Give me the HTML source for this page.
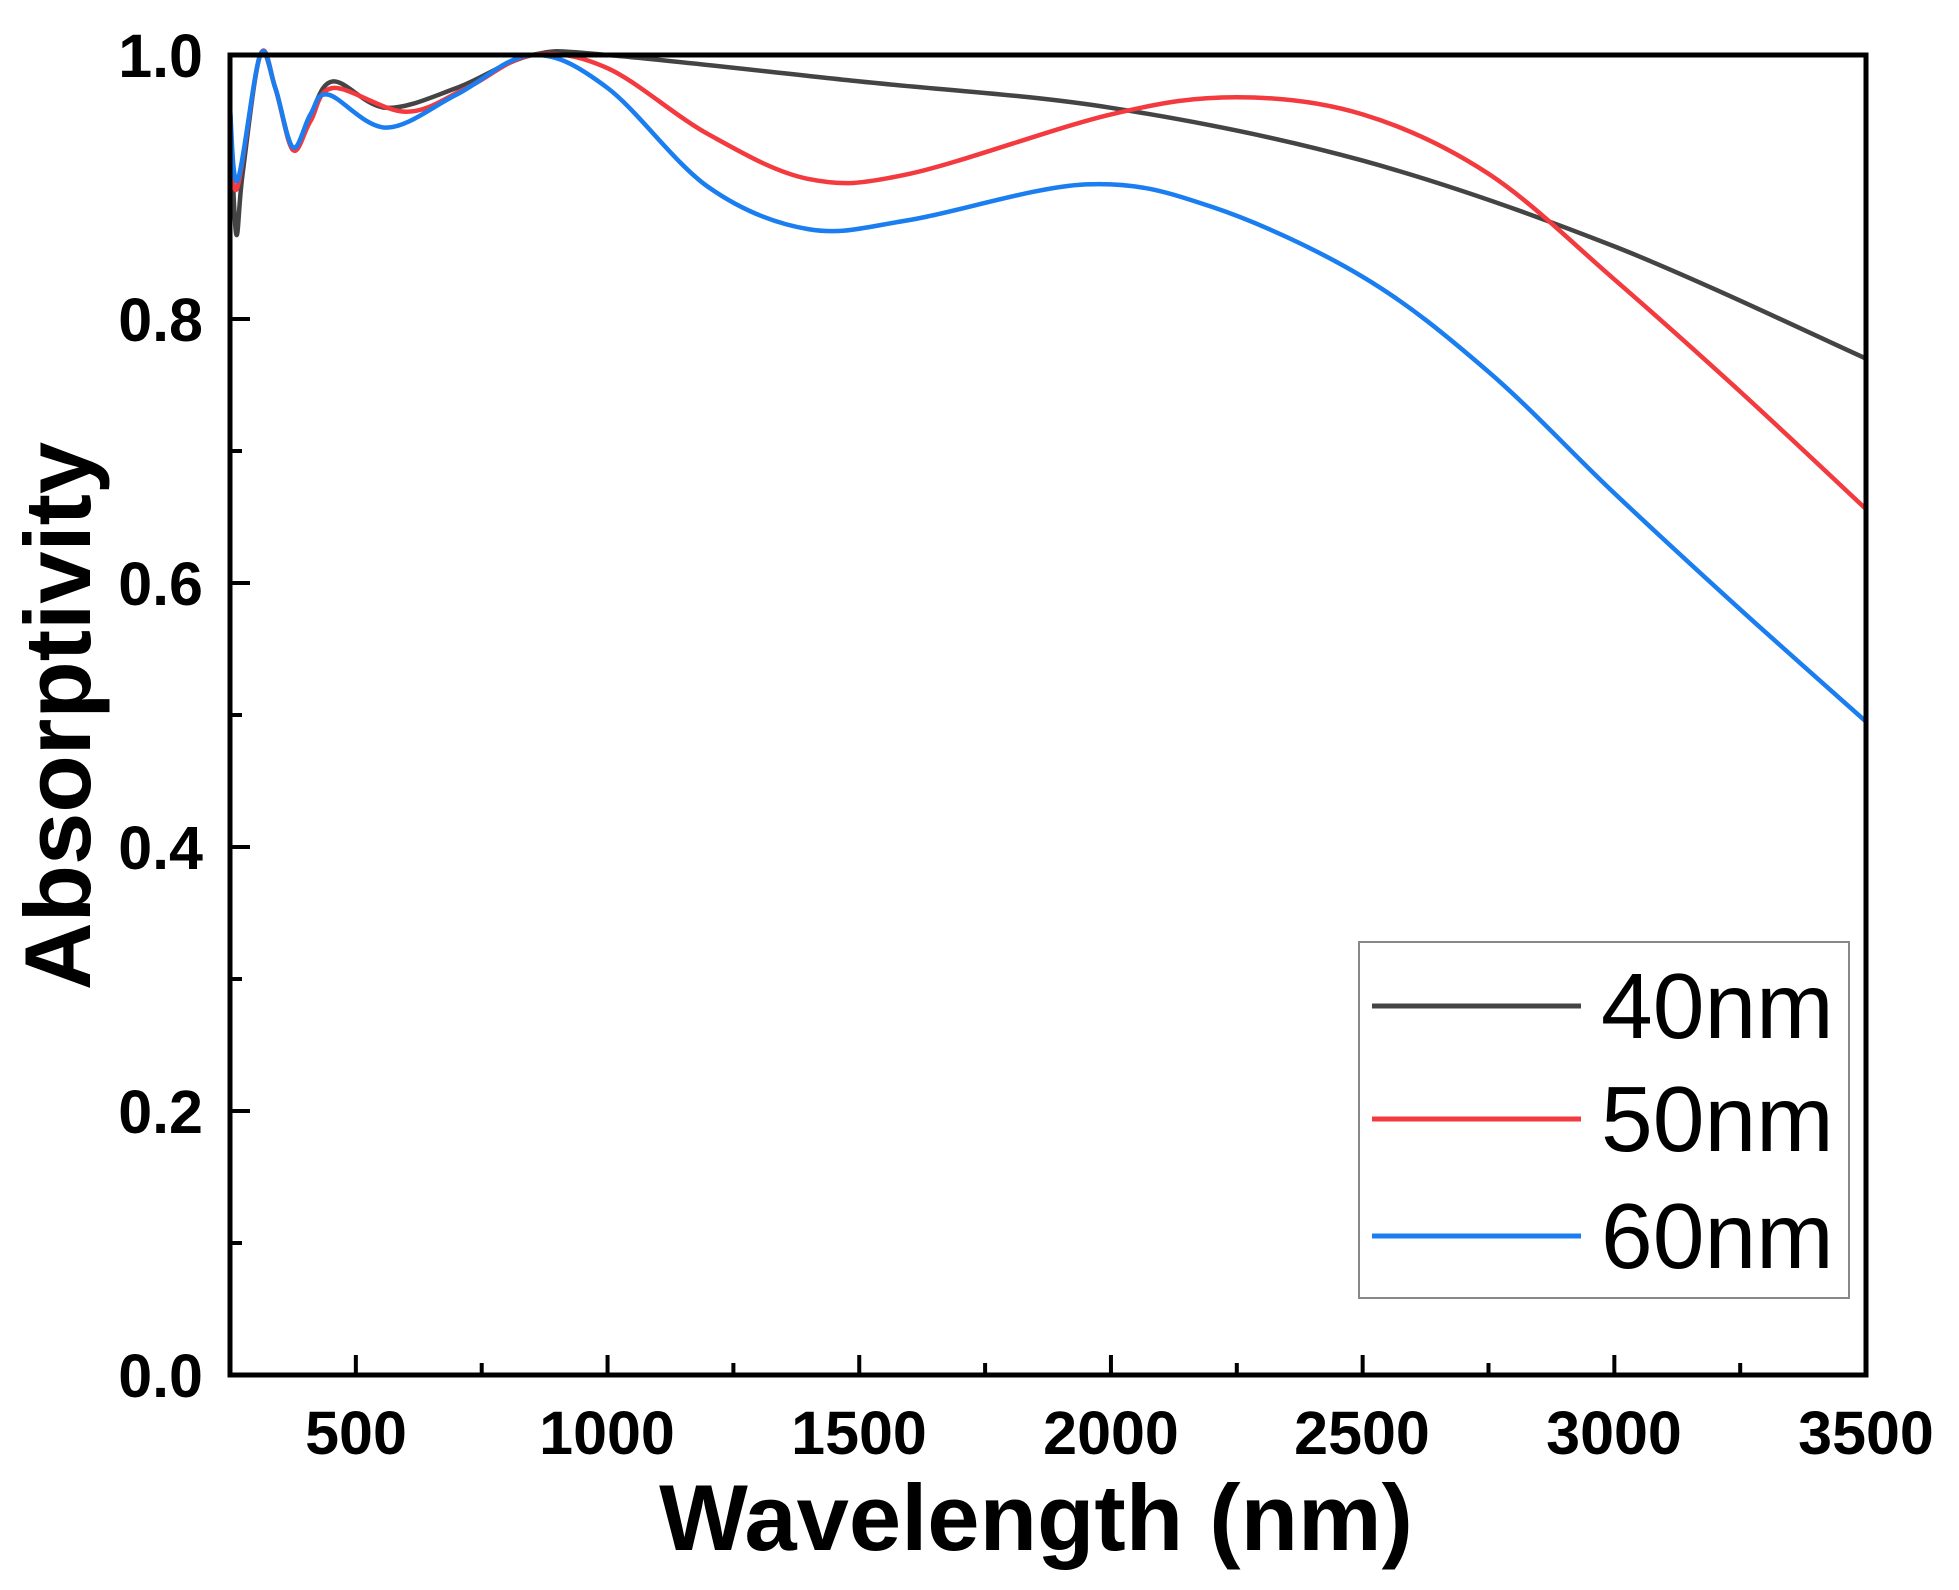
<!DOCTYPE html>
<html><head><meta charset="utf-8"><style>
body{margin:0;background:#fff}
svg{display:block}
text{font-family:"Liberation Sans",Arial,sans-serif}
</style></head><body>
<svg id="s" width="1959" height="1590" xmlns="http://www.w3.org/2000/svg">
<g id="ticks" stroke="#000" stroke-width="4"></g>
<g id="curves" fill="none" stroke-width="4.5" stroke-linejoin="round" stroke-linecap="round"></g>
<rect x="230" y="55" width="1636" height="1320" fill="none" stroke="#000" stroke-width="5"/>
<g font-weight="bold" font-size="61" text-anchor="end">
<text x="203" y="1397">0.0</text><text x="203" y="1133">0.2</text><text x="203" y="869">0.4</text>
<text x="203" y="605">0.6</text><text x="203" y="341">0.8</text><text x="203" y="77">1.0</text>
</g>
<g font-weight="bold" font-size="61" text-anchor="middle">
<text x="356" y="1454">500</text><text x="607" y="1454">1000</text><text x="859" y="1454">1500</text>
<text x="1111" y="1454">2000</text><text x="1362" y="1454">2500</text><text x="1614" y="1454">3000</text><text x="1866" y="1454">3500</text>
</g>
<text x="1036" y="1550" font-weight="bold" font-size="94" text-anchor="middle">Wavelength (nm)</text>
<text transform="translate(90,716) rotate(-90)" font-weight="bold" font-size="94" text-anchor="middle">Absorptivity</text>
<rect x="1359" y="942" width="490" height="356" fill="#fff" stroke="#888" stroke-width="2"/>
<line x1="1372" y1="1006" x2="1581" y2="1006" stroke="#444" stroke-width="5"/>
<line x1="1372" y1="1119" x2="1581" y2="1119" stroke="#f23a3f" stroke-width="5"/>
<line x1="1372" y1="1236" x2="1581" y2="1236" stroke="#1a7df0" stroke-width="5"/>
<g font-size="93">
<text x="1601" y="1038">40nm</text><text x="1601" y="1151">50nm</text><text x="1601" y="1268">60nm</text>
</g>
</svg>
<script>
var X=l=>230+(l-250)*0.5034, Y=v=>1375-v*1320;
var t='';
for(var i=0;i<=10;i++){var y=1375-i*132,L=i%2?12:20;t+='<line x1="230" y1="'+y+'" x2="'+(230+L)+'" y2="'+y+'"/>';}
for(var l=500;l<3500;l+=250){var x=X(l),L=(l%500)?12:20;t+='<line x1="'+x+'" y1="1375" x2="'+x+'" y2="'+(1375-L)+'"/>';}
document.getElementById('ticks').innerHTML=t;
var D={
'#444':[[250,0.96],[262,0.865],[275,0.91],[310,1.0],[340,0.975],[375,0.93],[410,0.955],[455,0.98],[560,0.96],[700,0.975],[850,1.0],[1000,1.0],[1500,0.98],[2000,0.96],[2500,0.92],[3000,0.855],[3500,0.77]],
'#f23a3f':[[250,0.93],[265,0.90],[310,1.0],[340,0.975],[375,0.928],[410,0.95],[455,0.975],[600,0.957],[720,0.975],[850,1.0],[1000,0.99],[1200,0.94],[1400,0.906],[1600,0.91],[2000,0.955],[2250,0.968],[2500,0.955],[2750,0.91],[3000,0.83],[3250,0.745],[3500,0.656]],
'#1a7df0':[[250,0.96],[265,0.905],[310,1.0],[340,0.975],[375,0.93],[410,0.955],[445,0.97],[560,0.945],[700,0.97],[850,1.0],[1000,0.975],[1200,0.90],[1400,0.868],[1600,0.875],[1950,0.902],[2200,0.885],[2500,0.832],[2750,0.76],[3000,0.668],[3250,0.58],[3500,0.495]]};
var g='';
for(var c in D){var p=D[c].map(a=>[X(a[0]),Y(a[1])]);var d='M'+p[0][0]+','+p[0][1];
for(var i=0;i<p.length-1;i++){var a=p[i-1]||p[i],b=p[i],e=p[i+1],f=p[i+2]||e;
d+=' C'+(b[0]+(e[0]-a[0])/6)+','+(b[1]+(e[1]-a[1])/6)+' '+(e[0]-(f[0]-b[0])/6)+','+(e[1]-(f[1]-b[1])/6)+' '+e[0]+','+e[1];}
g+='<path stroke="'+c+'" d="'+d+'"/>';}
document.getElementById('curves').innerHTML=g;
</script>
</body></html>
